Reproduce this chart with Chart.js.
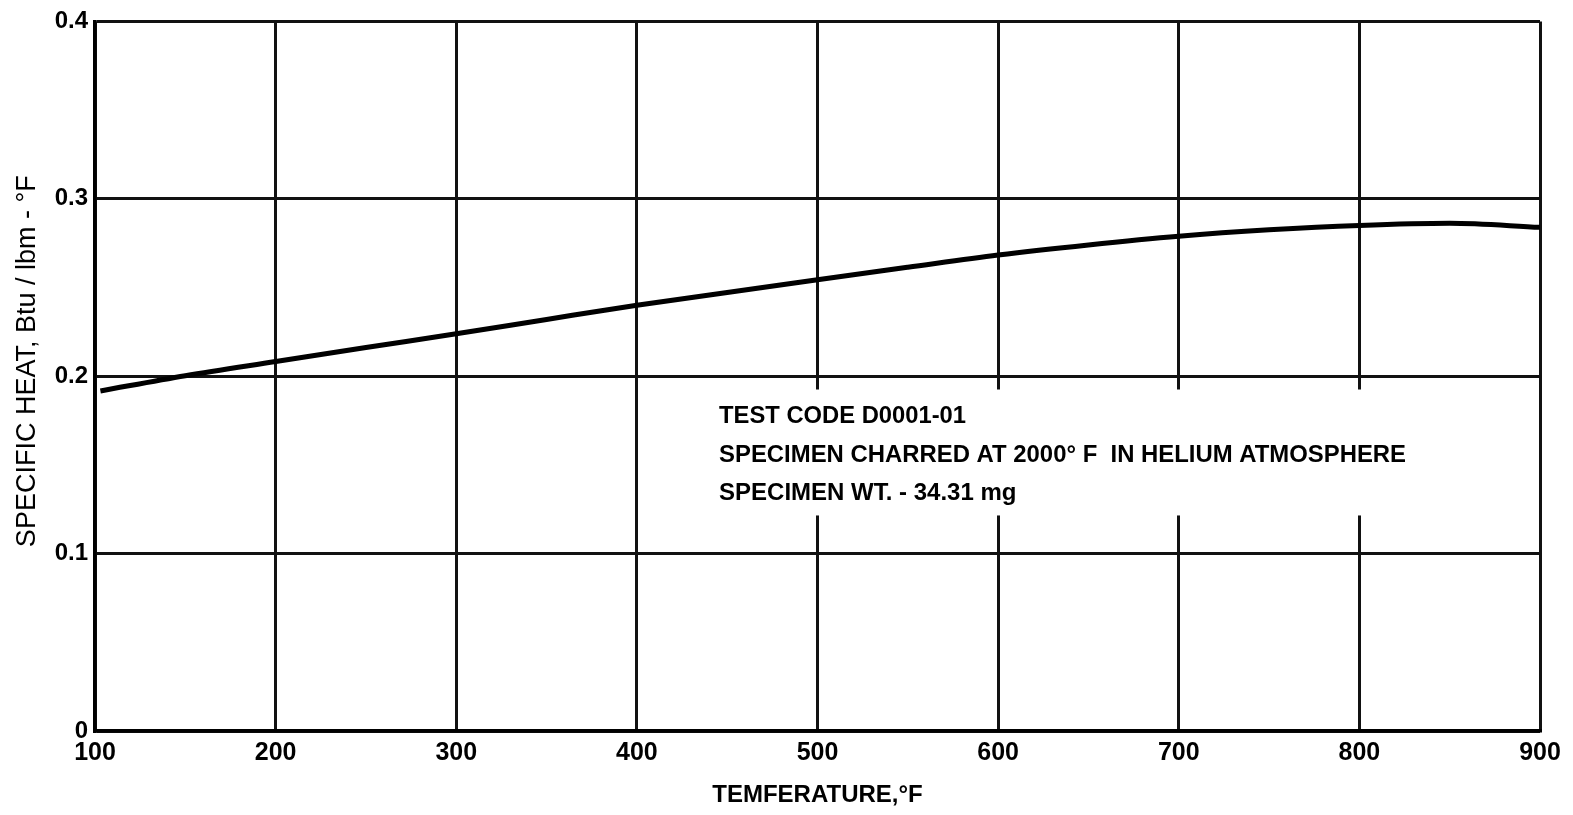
<!DOCTYPE html>
<html>
<head>
<meta charset="utf-8">
<script src="https://cdn.jsdelivr.net/npm/chart.js@4/dist/chart.umd.min.js"></script>
<style>
  html, body { margin: 0; padding: 0; background: #fff; }
  .wrap { width: 1573px; height: 815px; position: relative; }
</style>
</head>
<body>
<div class="wrap"><canvas id="heatChart"></canvas></div>
<script>
// readings (temperature, specific heat)
const temps = [103, 150, 200, 250, 300, 350, 400, 450, 500, 550, 600, 650, 700, 750, 800, 850, 900];
const specificHeat = [0.1917, 0.2003, 0.2083, 0.2162, 0.2239, 0.2320, 0.2400, 0.2472, 0.2544, 0.2614, 0.2683, 0.2740, 0.2789, 0.2825, 0.2850, 0.2862, 0.2839];
const xTicks = [100, 200, 300, 400, 500, 600, 700, 800, 900];
const yTicks = [0, 0.1, 0.2, 0.3, 0.4];

const noteLines = [
  "TEST CODE D0001-01",
  "SPECIMEN CHARRED AT 2000° F  IN HELIUM ATMOSPHERE",
  "SPECIMEN WT. - 34.31 mg"
];

// note box, placed in data units
const noteBox = { x0: 437, x1: 834, y0: 0.1925, y1: 0.1215 };
const noteText = { x: 445.5, y: [0.1771, 0.1553, 0.1341], w: [247, 687, 304] };

const ink = "#111";
const fontFam = "'Liberation Sans', Arial, sans-serif";

const notePlugin = {
  id: "note",
  beforeDatasetsDraw(chart) {
    const { ctx, scales } = chart;
    const x = scales.x, y = scales.y;
    ctx.save();
    ctx.fillStyle = "#fff";
    const left = x.getPixelForValue(noteBox.x0);
    const right = x.getPixelForValue(noteBox.x1);
    const top = y.getPixelForValue(noteBox.y0);
    const bottom = y.getPixelForValue(noteBox.y1);
    ctx.fillRect(left, top, right - left, bottom - top);

    ctx.fillStyle = "#000";
    ctx.font = "bold 24px " + fontFam;
    ctx.textBaseline = "middle";
    ctx.textAlign = "left";
    noteLines.forEach((line, i) => {
      ctx.fillText(line, x.getPixelForValue(noteText.x), y.getPixelForValue(noteText.y[i]), noteText.w[i]);
    });
    ctx.restore();
  }
};

const points = temps.map((t, i) => ({ x: t, y: specificHeat[i] }));

new Chart(document.getElementById("heatChart"), {
  type: "line",
  data: {
    datasets: [
      {
        data: points,
        borderColor: "#000",
        borderWidth: 5,
        pointRadius: 0,
        cubicInterpolationMode: "monotone",
        fill: false,
      },
    ],
  },
  options: {
    responsive: true,
    maintainAspectRatio: false,
    animation: false,
    layout: { padding: { top: 15, right: 33, left: 0, bottom: 0 } },
    plugins: {
      legend: { display: false },
      tooltip: { enabled: false },
    },
    scales: {
      x: {
        type: "linear",
        min: 100,
        max: 900,
        afterBuildTicks: (s) => { s.ticks = xTicks.map((v) => ({ value: v })); },
        afterFit: (s) => { s.height = 84; },
        ticks: {
          color: "#000",
          padding: 7,
          maxRotation: 0,
          autoSkip: false,
          font: { family: fontFam, size: 25, weight: "bold" },
        },
        grid: { color: ink, lineWidth: 3, drawTicks: false },
        border: { color: "#000", width: 3.5 },
        title: {
          display: true,
          text: "TEMFERATURE,°F",
          color: "#000",
          font: { family: fontFam, size: 24, weight: "bold" },
          padding: { top: 0, bottom: 5 },
        },
      },
      y: {
        min: 0,
        max: 0.4,
        afterBuildTicks: (s) => { s.ticks = yTicks.map((v) => ({ value: v })); },
        afterFit: (s) => { s.width = 95; },
        ticks: {
          color: "#000",
          padding: 7,
          autoSkip: false,
          callback: (v) => (v === 0 ? "0" : v.toFixed(1)),
          font: { family: fontFam, size: 24, weight: "bold" },
        },
        grid: { color: ink, lineWidth: 3, drawTicks: false },
        border: { color: "#000", width: 3.5 },
        title: {
          display: true,
          text: "\u00a0\u00a0\u00a0\u00a0SPECIFIC HEAT, Btu / lbm - °F",
          color: "#000",
          font: { family: fontFam, size: 27 },
          padding: { top: 11, bottom: 0 },
        },
      },
    },
  },
  plugins: [notePlugin],
});
</script>
</body>
</html>
